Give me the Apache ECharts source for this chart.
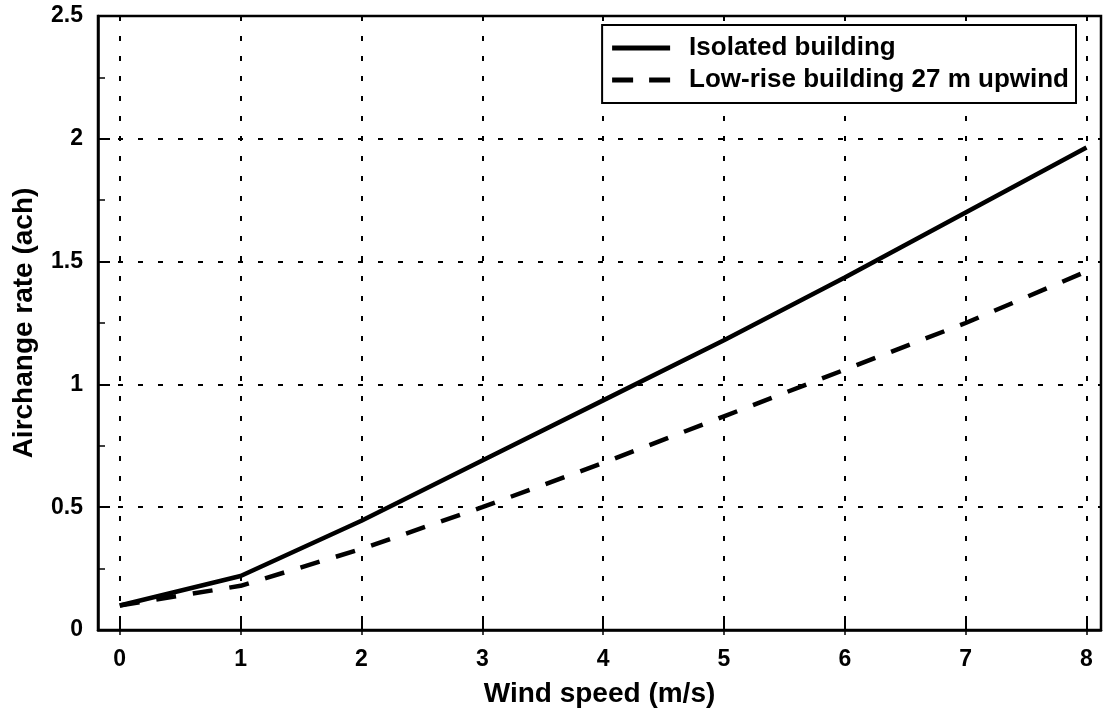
<!DOCTYPE html>
<html>
<head>
<meta charset="utf-8">
<script src="https://cdn.jsdelivr.net/npm/echarts@6/dist/echarts.min.js"></script>
<style>html,body{margin:0;padding:0;background:#fff}#c{width:1107px;height:713px}</style>
</head>
<body>
<div id="c"></div>
<script>
const windSpeed = [0, 1, 2, 3, 4, 5, 6, 7, 8];
const isolated = [0.10, 0.22, 0.445, 0.69, 0.935, 1.18, 1.435, 1.70, 1.965];
const lowRise = [0.10, 0.18, 0.33, 0.50, 0.68, 0.87, 1.06, 1.25, 1.46];
const xTicks = [0, 1, 2, 3, 4, 5, 6, 7, 8];

const font = '"Liberation Sans", Arial, Helvetica, sans-serif';
const chart = echarts.init(document.getElementById('c'));
chart.setOption({
  backgroundColor: '#fff',
  animation: false,
  grid: { left: 98, right: 6, top: 16, bottom: 80, show: true, borderColor: '#000', borderWidth: 2.5, backgroundColor: 'transparent' },
  legend: {
    orient: 'vertical', right: 31, top: 25,
    itemWidth: 58, itemHeight: 5, itemGap: 6,
    padding: [10, 7, 10, 10],
    borderColor: '#000', borderWidth: 2, backgroundColor: '#fff',
    textStyle: { fontFamily: font, fontWeight: 'bold', fontSize: 26, color: '#000', padding: [0, 0, 0, 14] },
    data: [
      { name: 'Isolated building', icon: 'rect' },
      { name: 'Low-rise building 27 m upwind', icon: 'path://M0,0h21v5h-21z M37,0h21v5h-21z' }
    ]
  },
  xAxis: [{
    type: 'value', min: -0.18, max: 8.12,
    name: 'Wind speed (m/s)', nameLocation: 'middle', nameGap: 50,
    nameTextStyle: { fontFamily: font, fontWeight: 'bold', fontSize: 28, color: '#000' },
    axisLine: { show: true, onZero: false, lineStyle: { color: '#000', width: 2.5 } },
    axisTick: { show: true, inside: true, length: 10, customValues: xTicks, lineStyle: { color: '#000', width: 2 } },
    axisLabel: { customValues: xTicks, margin: 18, fontFamily: font, fontWeight: 'bold', fontSize: 23, color: '#000' },
    splitLine: { show: true, lineStyle: { color: '#000', width: 2, type: [5, 15] } }
  }, {
    type: 'value', min: -0.18, max: 8.12, position: 'top',
    axisLine: { show: false },
    axisTick: { show: true, inside: true, length: 5, customValues: xTicks, lineStyle: { color: '#000', width: 1.5 } },
    axisLabel: { show: false, customValues: xTicks },
    splitLine: { show: false }
  }],
  yAxis: {
    type: 'value', min: 0, max: 2.5, interval: 0.5,
    name: 'Airchange rate (ach)', nameLocation: 'middle', nameGap: 60,
    nameTextStyle: { fontFamily: font, fontWeight: 'bold', fontSize: 28, color: '#000' },
    axisLine: { show: true, onZero: false, lineStyle: { color: '#000', width: 2.5 } },
    axisTick: { show: true, inside: true, length: 12, lineStyle: { color: '#000', width: 2 } },
    minorTick: { show: true, splitNumber: 2, length: 7, lineStyle: { color: '#000', width: 1.5 } },
    axisLabel: { margin: 15, fontFamily: font, fontWeight: 'bold', fontSize: 23, color: '#000' },
    splitLine: { show: true, lineStyle: { color: '#000', width: 2, type: [5, 15] } }
  },
  series: [{
    name: 'Isolated building', type: 'line', symbol: 'none', smooth: false,
    data: windSpeed.map((x, i) => [x, isolated[i]]),
    lineStyle: { color: '#000', width: 4.5 }, itemStyle: { color: '#000' }
  }, {
    name: 'Low-rise building 27 m upwind', type: 'line', symbol: 'none',
    data: windSpeed.map((x, i) => [x, lowRise[i]]),
    lineStyle: { color: '#000', width: 4.5, type: [20, 17] }, itemStyle: { color: '#000' }
  }]
});
</script>
</body>
</html>
